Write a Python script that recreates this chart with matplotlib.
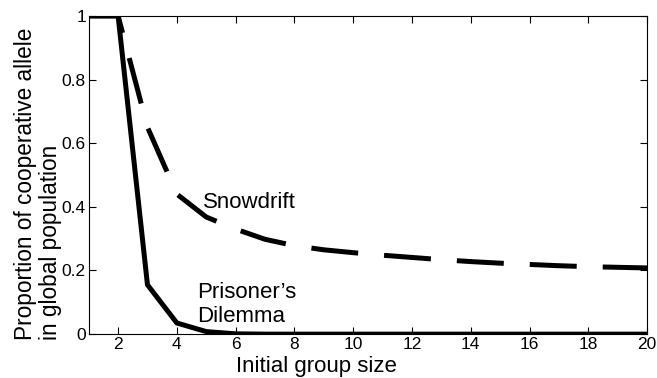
import numpy as np
import matplotlib.pyplot as plt

group_size = np.arange(1, 21)
prisoners = [1, 1, 0.155, 0.035, 0.008, 0.001, 0, 0, 0, 0,
             0, 0, 0, 0, 0, 0, 0, 0, 0, 0]
snowdrift = [1, 1, 0.65, 0.44, 0.368, 0.33, 0.298, 0.278, 0.265, 0.256,
             0.248, 0.241, 0.234, 0.228, 0.223, 0.219, 0.215, 0.212, 0.21, 0.208]

plt.rcParams['font.family'] = ['Liberation Sans', 'DejaVu Sans']
fig = plt.figure(figsize=(6.57, 3.78), dpi=100)
ax = fig.add_axes([0.135, 0.116, 0.85, 0.842])

ax.plot(group_size, snowdrift, color='black', lw=3.6, dashes=(9.4, 5.2))
ax.plot(group_size, prisoners, color='black', lw=3.6)

ax.text(4.9, 0.396, "Snowdrift", fontsize=16, va='baseline')
ax.text(4.69, 0.113, "Prisoner\u2019s", fontsize=16, va='baseline')
ax.text(4.69, 0.038, "Dilemma", fontsize=16, va='baseline')

ax.set_xlim(1, 20)
ax.set_ylim(0, 1)
ax.set_xticks(np.arange(2, 21, 2))
ax.set_yticks([0, 0.2, 0.4, 0.6, 0.8, 1])
ax.set_yticklabels(["0", "0.2", "0.4", "0.6", "0.8", "1"])
ax.tick_params(direction='in', top=True, right=True, labelsize=12.5, length=5, pad=2)

fig.text(0.481, 0.016, "Initial group size", fontsize=16, ha='center', va='baseline')
fig.text(0.058, 0.1005, "Proportion of cooperative allele\nin global population",
         fontsize=16.3, rotation=90, ha='center', va='bottom',
         multialignment='left', linespacing=1.15)

fig.savefig("out.png", dpi=100)
